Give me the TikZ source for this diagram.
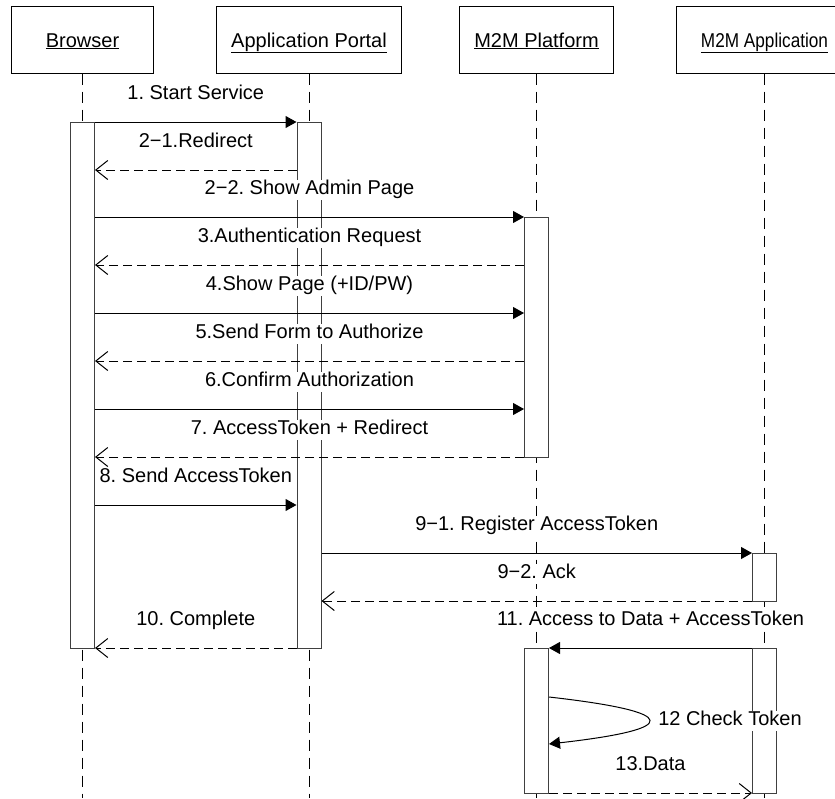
\documentclass[tikz,border=0pt]{standalone}
\usepackage{graphicx}
\usepackage{fontspec}
\setmainfont{Liberation Sans}
\frenchspacing
\usetikzlibrary{arrows.meta, positioning, calc}
\tikzset{
    actor/.style={
        rectangle,
        draw=black,
        line width=1pt,
        fill=white,
        minimum height=67pt,
        inner sep=0pt,
        text height=17pt,
        text depth=2pt,
        font=\fontsize{20}{23}\selectfont
    },
    lifeline/.style={
        draw=black,
        line width=1pt,
        dash pattern=on 11pt off 7pt
    },
    activation/.style={
        rectangle,
        draw=black!75,
        line width=1pt,
        fill=white,
        minimum width=24pt,
        inner sep=0pt
    },
    call/.style={
        draw=black,
        line width=1pt,
        -{Triangle[length=11pt, width=12pt]}
    },
    reply/.style={
        draw=black,
        line width=1pt,
        dash pattern=on 9pt off 5pt,
        -{Straight Barb[length=12pt, width=19pt]}
    },
    msglabel/.style={
        fill=white,
        inner sep=1pt,
        text height=14pt,
        text depth=4pt,
        font=\fontsize{20}{23}\selectfont
    }
}

\begin{document}
\begin{tikzpicture}[x=1pt, y=-1pt]
\useasboundingbox (0,0) rectangle (835,798);

% Participants
\node[actor, minimum width=142pt] (browser) at (82.5,39.5) {\underline{Browser}};
\node[actor, minimum width=185pt, right=62pt of browser] (portal) {\underline{Application Portal}};
\node[actor, minimum width=154pt, right=57pt of portal] (platform) {\underline{M2M Platform}};
\node[actor, minimum width=176pt, right=62pt of platform] (app) {\scalebox{0.86}[1]{\underline{M2M Application}}};

% Message rows
\coordinate (m1) at (0,122);
\coordinate (m21) at (0,170);
\coordinate (m22) at (0,217);
\coordinate (m3) at (0,265);
\coordinate (m4) at (0,313);
\coordinate (m5) at (0,361);
\coordinate (m6) at (0,409);
\coordinate (m7) at (0,457);
\coordinate (m8) at (0,505);
\coordinate (m91) at (0,553);
\coordinate (m92) at (0,601);
\coordinate (m10) at (0,648);
\coordinate (m12a) at (0,697);
\coordinate (m12b) at (0,744);
\coordinate (m13) at (0,793);
\coordinate (bottom) at (0,798);

% Lifelines
\draw[lifeline] (browser.south) -- (browser.south |- bottom);
\draw[lifeline] (portal.south) -- (portal.south |- bottom);
\draw[lifeline] (platform.south) -- (platform.south |- bottom);
\draw[lifeline] (app.south) -- (app.south |- bottom);

% Activations
\node[activation, minimum height=526pt, anchor=north] (browserAct) at (browser |- m1) {};
\node[activation, minimum height=526pt, anchor=north] (portalAct) at (portal |- m1) {};
\node[activation, minimum height=240pt, anchor=north] (platformAct) at (platform |- m22) {};
\node[activation, minimum height=48pt, anchor=north] (appAct) at (app |- m91) {};
\node[activation, minimum height=145pt, anchor=north] (platformAct2) at (platform |- m10) {};
\node[activation, minimum height=145pt, anchor=north] (appAct2) at (app |- m10) {};

% Login flow
\draw[call] (browserAct.east |- m1) -- node[msglabel, above=17pt] {1. Start Service} (portalAct.west |- m1);
\draw[reply] (portalAct.west |- m21) -- node[msglabel, above=17pt] {2−1.Redirect} (browserAct.east |- m21);
\draw[call] (browserAct.east |- m22) -- node[msglabel, above=17pt] {2−2. Show Admin Page} (platformAct.west |- m22);
\draw[reply] (platformAct.west |- m3) -- node[msglabel, above=17pt] {3.Authentication Request} (browserAct.east |- m3);
\draw[call] (browserAct.east |- m4) -- node[msglabel, above=17pt] {4.Show Page (+ID/PW)} (platformAct.west |- m4);
\draw[reply] (platformAct.west |- m5) -- node[msglabel, above=17pt] {5.Send Form to Authorize} (browserAct.east |- m5);
\draw[call] (browserAct.east |- m6) -- node[msglabel, above=17pt] {6.Confirm Authorization} (platformAct.west |- m6);
\draw[reply] (platformAct.west |- m7) -- node[msglabel, above=17pt] {7. AccessToken + Redirect} (browserAct.east |- m7);

% Token registration
\draw[call] (browserAct.east |- m8) -- node[msglabel, above=17pt] {8. Send AccessToken} (portalAct.west |- m8);
\draw[call] (portalAct.east |- m91) -- node[msglabel, above=17pt] {9−1. Register AccessToken} (appAct.west |- m91);
\draw[reply] (appAct.west |- m92) -- node[msglabel, above=17pt] {9−2. Ack} (portalAct.east |- m92);
\draw[reply] (portalAct.west |- m10) -- node[msglabel, above=17pt] {10. Complete} (browserAct.east |- m10);

% Data access
\draw[call] (appAct2.west |- m10) -- node[msglabel, above=17pt] {11. Access to Data + AccessToken} (platformAct2.east |- m10);
\draw[call] (platformAct2.east |- m12a) .. controls ($(platformAct2.east |- m12a)+(133,15)$) and ($(platformAct2.east |- m12b)+(133,-15)$) .. node[msglabel, pos=0.5, right=8pt] {12 Check Token} (platformAct2.east |- m12b);
\draw[reply] (platformAct2.east |- m13) -- node[msglabel, above=17pt] {13.Data} (appAct2.west |- m13);

\end{tikzpicture}
\end{document}
